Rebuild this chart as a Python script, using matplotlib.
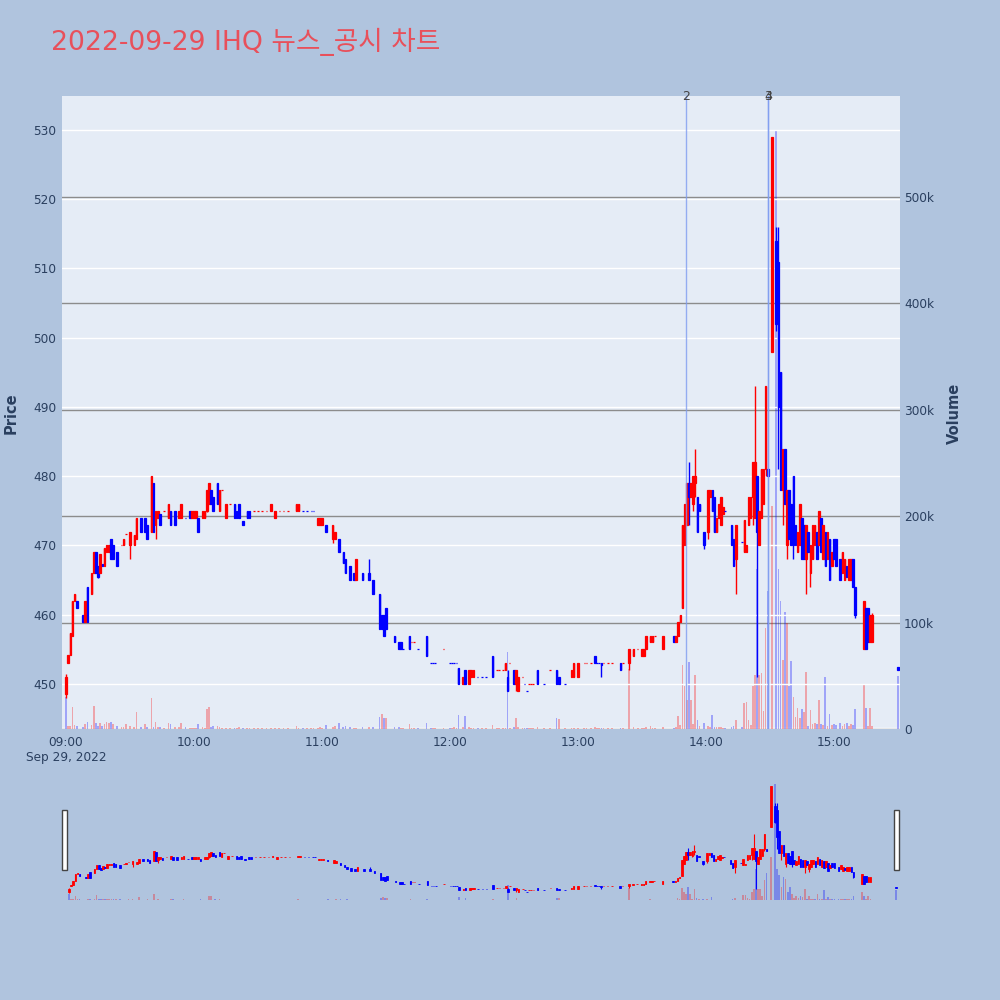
import matplotlib
matplotlib.use("Agg")
import matplotlib.pyplot as plt
from matplotlib.patches import Rectangle
from matplotlib.transforms import blended_transform_factory
import numpy as np

TITLE = "2022-09-29 IHQ 뉴스_공시 차트"

# minutes after 09:00
minute = [0, 1, 2, 3, 4, 5, 8, 9, 10, 12,
          13, 14, 15, 16, 17, 18, 19, 20, 21, 22,
          24, 26, 27, 28, 30, 32, 33, 35, 37, 38,
          40, 41, 42, 43, 44, 46, 48, 49, 51, 53,
          54, 56, 58, 59, 60, 61, 62, 64, 65, 66,
          67, 68, 69, 71, 72, 73, 75, 77, 79, 80,
          81, 83, 85, 86, 88, 90, 92, 94, 96, 98,
          100, 102, 104, 108, 109, 111, 113, 115, 116, 118,
          119, 120, 122, 125, 126, 128, 130, 131, 133, 135,
          136, 139, 142, 144, 147, 148, 149, 150, 154, 156,
          157, 158, 161, 162, 163, 165, 169, 171, 172, 173,
          177, 180, 181, 182, 183, 184, 186, 187, 189, 190,
          191, 193, 195, 197, 200, 202, 203, 205, 206, 207,
          208, 210, 211, 212, 214, 215, 216, 217, 218, 219,
          221, 224, 227, 230, 231, 234, 237, 238, 240, 243,
          244, 246, 248, 249, 250, 251, 252, 254, 256, 260,
          261, 264, 266, 268, 270, 271, 272, 274, 275, 276,
          280, 285, 286, 287, 288, 289, 290, 291, 292, 293,
          294, 295, 296, 297, 299, 301, 302, 303, 304, 305,
          306, 307, 308, 309, 312, 313, 314, 317, 318, 319,
          320, 321, 322, 323, 324, 325, 326, 327, 328, 329,
          331, 333, 334, 335, 336, 337, 338, 339, 340, 341,
          342, 343, 344, 345, 346, 347, 348, 349, 350, 351,
          352, 353, 354, 355, 356, 357, 358, 359, 360, 361,
          363, 364, 365, 366, 367, 368, 369, 370, 374, 375,
          376, 377, 378, 390]

open_ = [448.5, 453, 454.2, 457, 462, 462, 460, 459, 464, 463,
         466, 469, 467, 466, 467.3, 467, 469, 469, 471, 470,
         469, 470, 470, 471.7, 470, 470, 471, 474, 474, 473,
         472, 479, 473, 474, 474.5, 475, 474, 475, 475, 474,
         474, 474, 475, 474, 474, 474, 474, 474, 474, 475,
         476, 478, 477, 479, 475, 478, 474, 476, 476, 475,
         476, 473.5, 475, 475, 475, 475, 475, 475, 475, 474,
         475, 475, 475, 475, 475, 475, 475, 475, 475, 473,
         473, 473, 473, 471, 471, 471, 469, 468, 467, 466,
         465, 466, 466, 465, 463, 460, 460, 461, 457, 456,
         456, 455, 457, 456, 456, 455, 457, 453, 453, 453,
         455, 453, 453, 453, 453, 452.3, 450, 452, 450, 451,
         451, 451, 451, 451, 454, 452, 452, 452, 452, 451,
         453, 452, 450, 449, 451, 450, 449, 450, 450, 450,
         452, 450, 452, 452, 451, 450, 451, 451, 451, 453,
         453, 453, 454, 453, 453, 453, 453, 453, 453, 453,
         453, 453, 454, 455, 454, 454, 455, 456, 456, 457,
         455, 457, 456, 457, 459, 461, 470, 473, 479, 477,
         476, 479, 477, 476, 472, 472, 477, 478, 477, 472,
         474, 473, 474.5, 475, 473, 471, 468, 470.5, 469, 469,
         473, 474, 477, 474, 480, 470, 474, 476, 481, 481,
         498, 514, 511, 495, 478, 484, 470, 478, 476, 480,
         473, 469, 470, 474, 473, 468, 472, 466, 468, 470,
         472, 470, 474, 468, 472, 468, 471, 467, 471, 471,
         468, 466, 465, 467, 465, 465, 468, 464, 455, 461,
         461, 456, 456, 452.5]

high = [451.5, 454.2, 457.4, 462, 463, 462, 460, 462, 464, 466,
        469, 469, 467, 468.7, 467.3, 469.6, 470, 470, 471, 470,
        469, 470, 471, 471.7, 472, 471.5, 474, 474, 474, 473,
        480, 479, 475, 475, 474.5, 475, 476, 475, 475, 475,
        476, 474, 475, 475, 475, 475, 474, 475, 475, 478,
        479, 478, 477, 479, 478, 478, 476, 476, 476, 475,
        476, 473.5, 475, 475, 475, 475, 475, 475, 476, 475,
        475, 475, 475, 476, 476, 475, 475, 475, 475, 474,
        474, 474, 473, 473, 472, 471, 469, 468, 467, 466,
        468, 466, 468, 465, 463, 460, 460, 461, 457, 456,
        456, 455, 457, 456, 456, 455, 457, 453, 453, 453,
        455, 453, 453, 453, 453, 452.3, 451, 452, 452, 452,
        452, 451, 451, 451, 454, 452, 452, 452, 453, 452,
        453, 452, 452, 451, 451, 450, 449, 450, 450, 450,
        452, 450, 452, 452, 451, 450, 452, 453, 453, 453,
        453, 453, 454, 453, 453, 453, 453, 453, 453, 453,
        453, 455, 455, 455, 455, 455, 457, 457, 457, 457,
        457, 457, 457, 459, 460, 473, 476, 479, 482, 479,
        480, 484, 477, 476, 472, 478, 478, 478, 477, 474,
        476, 477, 475.5, 475, 473, 471, 473, 470.5, 473.7, 470,
        477, 477, 482, 493, 480, 475, 481, 481, 493, 481,
        529, 516, 516, 495, 484, 484, 478, 478, 476, 480,
        473, 472, 476, 474, 473, 473, 472, 470, 473, 473,
        472, 475, 474, 473, 472, 472, 471, 469, 471, 471,
        468, 469, 468, 467, 468, 468, 468, 464, 462, 461,
        461, 460, 460.3, 452.5]

low = [448, 453, 454.2, 457, 462, 461, 459, 459, 459, 463,
       466, 466, 465.3, 466, 467, 467, 469, 469, 468, 468,
       467, 470, 470, 471.7, 468, 470, 471, 472, 472, 471,
       472, 472, 471, 474, 473, 475, 474, 473, 473, 474,
       474, 474, 474, 474, 474, 474, 472, 474, 474, 474.8,
       476, 476, 475, 476, 475, 478, 474, 476, 474, 474,
       474, 473, 474, 474, 475, 475, 475, 475, 475, 474,
       475, 475, 475, 475, 475, 475, 475, 475, 475, 473,
       473, 473, 472, 470.4, 471, 469, 467.5, 466, 465, 465,
       465, 465, 465, 463, 458, 458, 457, 458, 456, 455,
       455, 455, 455, 456, 456, 455, 454, 453, 453, 453,
       455, 453, 453, 453, 453, 450, 450, 450, 450, 451,
       451, 451, 451, 451, 451, 452, 452, 452, 452, 449,
       453, 450, 449, 449, 451, 450, 449, 450, 450, 450,
       450, 450, 452, 450, 450, 450, 451, 451, 451, 453,
       453, 453, 453, 453, 453, 451, 453, 453, 453, 452,
       453, 452, 454, 455, 454, 454, 455, 456, 456, 457,
       455, 456, 456, 457, 459, 461, 470, 473, 473, 477,
       475, 477, 472, 475, 469.5, 471, 477, 475, 472, 472,
       474, 473, 474.5, 475, 470, 467, 463, 470.5, 469, 469,
       473, 474, 473, 474, 451, 470, 474, 476, 480, 480,
       498, 501, 481, 478, 473, 476, 468, 471, 470, 468,
       470, 469, 470, 468, 468, 463, 469, 464, 468, 470,
       468, 470, 469, 468, 467, 468, 465, 467, 468, 467,
       465, 466, 465, 465.5, 465, 465, 464, 459.5, 455, 455,
       456, 456, 456, 452]

close = [451, 454.2, 457.4, 462, 463, 461, 459, 462, 459, 466,
         469, 466, 465.5, 468.7, 467, 469.6, 470, 470, 468, 468,
         467, 470, 471, 471.7, 472, 471.5, 474, 472, 472, 471,
         480, 472, 475, 475, 473, 475, 476, 473, 473, 475,
         476, 474, 474, 475, 475, 475, 472, 475, 475, 478,
         479, 476, 475, 476, 478, 478, 476, 476, 474, 474,
         474, 473, 474, 474, 475, 475, 475, 475, 476, 475,
         475, 475, 475, 476, 476, 475, 475, 475, 475, 474,
         474, 474, 472, 473, 472, 469, 467.5, 466, 465, 465,
         468, 465, 465, 463, 458, 458, 457, 458, 456, 455,
         455, 455, 455, 456, 456, 455, 454, 453, 453, 453,
         455, 453, 453, 453, 453, 450, 451, 450, 452, 452,
         452, 451, 451, 451, 451, 452, 452, 452, 453, 449,
         453, 450, 452, 451, 451, 450, 449, 450, 450, 450,
         450, 450, 452, 450, 450, 450, 452, 453, 453, 453,
         453, 453, 453, 453, 453, 452.8, 453, 453, 453, 452,
         453, 455, 455, 455, 455, 455, 457, 457, 457, 457,
         457, 456, 457, 459, 460, 473, 476, 479, 477, 479,
         480, 480, 472, 475, 470, 478, 478, 475, 472, 474,
         476, 477, 475.5, 475, 470, 467, 473, 470.5, 473.7, 470,
         477, 477, 482, 482, 472, 475, 481, 481, 493, 480,
         529, 502, 490, 478, 484, 476, 478, 471, 470, 470,
         470, 472, 476, 468, 468, 473, 469, 470, 473, 473,
         468, 475, 469, 473, 467, 472, 465, 469, 468, 467,
         465, 469, 468, 465.5, 468, 468, 464, 460, 462, 455,
         456, 460, 460, 452]

volume = [30000, 3000, 2500, 21000, 4000, 3000, 2000, 5000, 7000, 4000,
          22000, 6000, 3000, 6000, 3000, 5000, 7000, 6000, 7000, 5000,
          3000, 2000, 2000, 5000, 2500, 1500, 16000, 2000, 5000, 2000,
          29000, 2000, 7000, 2000, 1500, 1000, 6000, 5000, 1500, 1500,
          6000, 1500, 1200, 1200, 1200, 1000, 5000, 1500, 1200, 19000,
          21000, 2000, 3000, 2500, 1500, 1000, 1000, 800, 1000, 1200,
          1500, 1000, 1000, 800, 600, 500, 700, 500, 1000, 800,
          500, 600, 500, 3000, 800, 500, 500, 600, 500, 1000,
          1500, 800, 4000, 2000, 3000, 6000, 1500, 2500, 1500, 1000,
          1200, 1500, 2000, 2000, 11000, 14000, 10000, 10000, 1500, 1500,
          1000, 800, 5000, 600, 500, 500, 6000, 800, 600, 500,
          700, 600, 500, 1500, 500, 13000, 1500, 12000, 1500, 1000,
          800, 600, 500, 600, 4000, 500, 600, 500, 1000, 72000,
          800, 2000, 10000, 1500, 500, 600, 500, 1200, 500, 600,
          1500, 500, 600, 10000, 9000, 500, 1000, 800, 1000, 600,
          500, 600, 1500, 500, 500, 1000, 500, 600, 500, 1200,
          500, 56000, 1500, 800, 1000, 1000, 1500, 2500, 1000, 500,
          1500, 1200, 2000, 12000, 4000, 60000, 40000, 27000, 63000, 27000,
          5000, 51000, 8000, 3000, 6000, 3000, 2000, 13000, 2000, 1500,
          1500, 1500, 1200, 1000, 2000, 3000, 8000, 2000, 24000, 25000,
          8000, 4000, 40000, 51000, 150000, 51000, 53000, 17000, 95000, 130000,
          210000, 563000, 150000, 120000, 65000, 110000, 100000, 40000, 64000, 30000,
          11000, 20000, 10000, 19000, 16000, 54000, 3000, 18000, 5000, 6000,
          5000, 27000, 5000, 4000, 49000, 3000, 14000, 4000, 5000, 4000,
          6000, 3000, 5000, 6000, 3000, 5000, 4000, 19000, 41000, 20000,
          3000, 20000, 3000, 50000]

event_minute = [290.7, 329.1, 329.1]
event_label = ["2", "3", "4"]

price_ticks = [450, 460, 470, 480, 490, 500, 510, 520, 530]
volume_ticks = [0, 100000, 200000, 300000, 400000, 500000]
volume_tick_labels = ["0", "100k", "200k", "300k", "400k", "500k"]
time_ticks = [0, 60, 120, 180, 240, 300, 360]
time_tick_labels = ["09:00", "10:00", "11:00", "12:00", "13:00", "14:00", "15:00"]
date_label = "Sep 29, 2022"

BG = "#b0c4de"
PLOT_BG = "#e5ecf6"
RED = "#ff0000"
BLUE = "#0000ff"
TXT = "#2a3f5f"

m = np.array(minute, float)
o = np.array(open_, float)
h = np.array(high, float)
l = np.array(low, float)
c = np.array(close, float)
v = np.array(volume, float)
n = len(m)

inc = np.zeros(n, bool)
for i in range(n):
    if c[i] > o[i]:
        inc[i] = True
    elif c[i] < o[i]:
        inc[i] = False
    elif i == 0:
        inc[i] = True
    else:
        inc[i] = c[i] > c[i - 1] if c[i] != c[i - 1] else inc[i - 1]
ccol = np.where(inc, RED, BLUE)
vcol = [BLUE] + [RED if c[i] >= c[i - 1] else BLUE for i in range(1, n)]
vcol = [RED if (inc[i] and i > 0) else vc for i, vc in enumerate(vcol)]
vcol[0] = BLUE

XLIM = (-1.9, 391.0)


def draw_candles(ax, body_w, wick_lw, edge_lw):
    ax.vlines(m, l, h, colors=ccol, linewidth=wick_lw, zorder=3)
    ax.bar(m, np.abs(c - o), bottom=np.minimum(o, c), width=body_w,
           color=ccol, edgecolor=ccol, linewidth=edge_lw, zorder=4)


fig = plt.figure(figsize=(10, 10), dpi=100, facecolor=BG)

# ---- main panel ----
axp = fig.add_axes([0.062, 0.271, 0.838, 0.633])
axv = axp.twinx()
axv.set_zorder(1)
axp.set_zorder(2)
axp.patch.set_visible(False)
axv.patch.set_visible(True)
axv.patch.set_facecolor(PLOT_BG)

axv.bar(m, v, width=0.8, color=vcol, alpha=0.3, linewidth=0, zorder=2)
axv.set_ylim(0, 595000)
axv.set_yticks(volume_ticks)
axv.set_yticklabels(volume_tick_labels)
axv.grid(axis="y", color="#8c8c8c", linewidth=1.0, zorder=1)
axv.axhline(0, color="white", linewidth=2.5, zorder=1)
axv.tick_params(axis="y", length=0, pad=3, labelsize=8.7, labelcolor=TXT)

draw_candles(axp, 0.75, 1.0, 0.9)
axp.set_ylim(443.5, 534.9)
axp.set_xlim(*XLIM)
axp.set_yticks(price_ticks)
axp.grid(axis="y", color="white", linewidth=1.0, zorder=0)
axp.set_axisbelow(True)
axp.tick_params(axis="y", length=0, pad=4, labelsize=8.7, labelcolor=TXT)
axp.set_xticks(time_ticks)
axp.set_xticklabels(time_tick_labels)
axp.tick_params(axis="x", length=0, pad=5, labelsize=8.7, labelcolor=TXT)
for ax in (axp, axv):
    for s in ax.spines.values():
        s.set_visible(False)

trans = blended_transform_factory(axp.transData, axp.transAxes)
for t, lab in zip(event_minute, event_label):
    axp.axvline(t, color="#7f9cf0", linewidth=1.0, alpha=0.8, zorder=6)
    axp.text(t, 1.0, lab, transform=trans, ha="center", va="center",
             fontsize=9, color="#444444", zorder=7)

fig.text(0.066, 1 - 758 / 1000, date_label, ha="center", va="center",
         fontsize=8.7, color=TXT)

fig.text(0.011, 0.587, "Price", rotation=90, ha="center", va="center",
         fontsize=10.5, fontweight="bold", color=TXT)
fig.text(0.954, 0.587, "Volume", rotation=90, ha="center", va="center",
         fontsize=10.5, fontweight="bold", color=TXT)

fig.text(0.051, 1 - 50.5 / 1000, TITLE, ha="left", va="baseline",
         fontsize=19.2, color="#e8505b", family=["DejaVu Sans", "Noto Sans CJK KR"])

# ---- range slider ----
axs = fig.add_axes([0.065, 0.100, 0.833, 0.120])
axsv = axs.twinx()
axsv.set_zorder(1)
axs.set_zorder(2)
axs.patch.set_visible(False)
axsv.patch.set_facecolor(PLOT_BG)
axsv.bar(m, v, width=0.8, color=vcol, alpha=0.3, linewidth=0)
axsv.set_ylim(0, 580000)
draw_candles(axs, 0.75, 0.8, 0.6)
axs.set_ylim(442.7, 533.5)
axs.set_xlim(*XLIM)
for ax in (axs, axsv):
    ax.set_xticks([])
    ax.set_yticks([])
    for s in ax.spines.values():
        s.set_visible(False)

for x0 in (0.062, 0.894):
    fig.add_artist(Rectangle((x0, 0.130), 0.0045, 0.060, transform=fig.transFigure,
                             facecolor="white", edgecolor="#444444", linewidth=1.0))

fig.savefig("out.png", dpi=100, facecolor=BG)
